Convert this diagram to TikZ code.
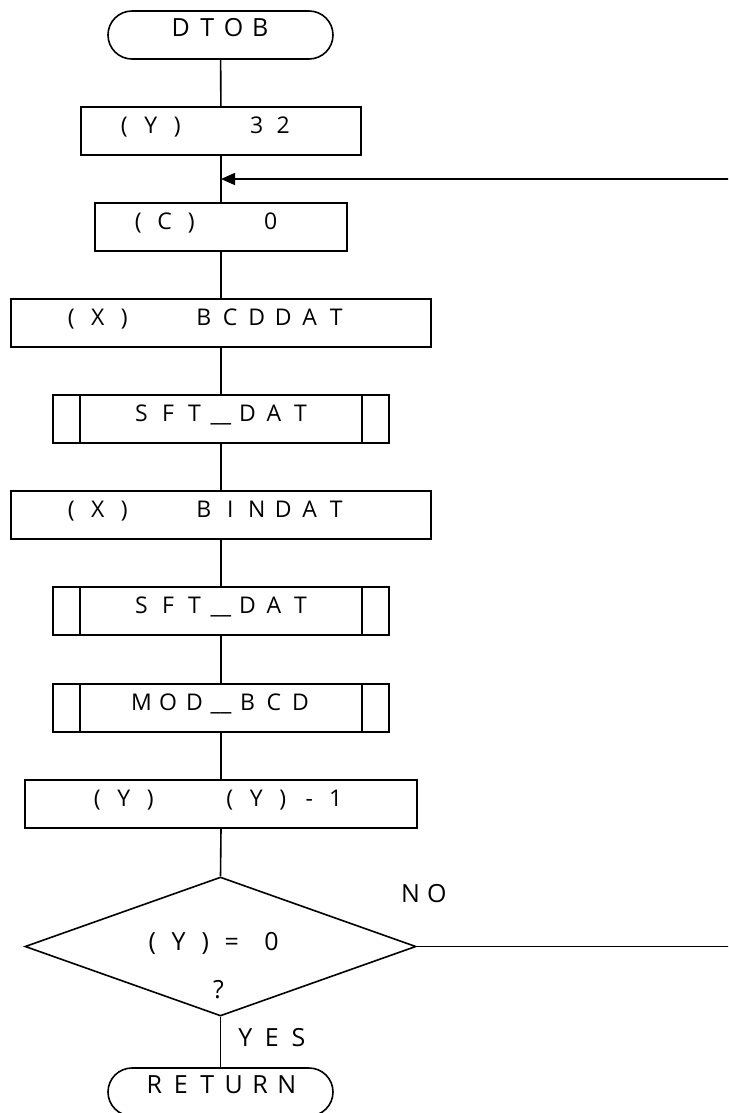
\documentclass[tikz,border=0pt]{standalone}
\usepackage{fontspec}
\setmainfont{Open Sans}
\usetikzlibrary{shapes.geometric,shapes.misc,arrows.meta}
\makeatletter
\newcommand\cells[1]{\@tfor\cellch:=#1\do{\makebox[26.5pt][c]{\cellch}}}
\makeatother
\newcommand\boxtxt[3]{\makebox[#1pt][l]{\hspace*{#2pt}\cells{#3}}}
\tikzset{
  flow/.style={draw, line width=1.6pt, inner sep=0pt, text height=26pt, text depth=22pt, font=\fontsize{23}{27}\selectfont},
  procbox/.style={flow, rectangle},
  subbox/.style={flow, rectangle, minimum width=336pt},
  termbox/.style={flow, rounded rectangle, minimum width=225pt, font=\fontsize{25}{29}\selectfont},
  decbox/.style={draw, line width=1.6pt, diamond, aspect=2.81, minimum width=391pt, minimum height=139pt, inner sep=0pt},
  lbl/.style={inner sep=0pt, font=\fontsize{25}{29}\selectfont},
  conn/.style={line width=1.6pt},
  arr/.style={conn, -{Triangle[length=14pt,width=12pt]}}
}
\begin{document}
\begin{tikzpicture}[x=1pt,y=-1pt]
\useasboundingbox (0,0) rectangle (728,1113);
\clip (0,0) rectangle (728,1113);
% nodes
\node[termbox] (start) at (220.5,35) {\cells{DTOB}};
\node[procbox] (b1) at (221,131) {\boxtxt{280}{30}{(Y)~~32}};
\node[procbox] (b2) at (221,227) {\boxtxt{252}{30}{(C)~~0}};
\node[procbox] (b3) at (221,323) {\boxtxt{420}{47}{(X)~~BCDDAT}};
\node[subbox] (s1) at (221,419) {\cells{SFT{\_\_}DAT}};
\node[procbox] (b4) at (221,515) {\boxtxt{420}{47}{(X)~~BINDAT}};
\node[subbox] (s2) at (221,611) {\cells{SFT{\_\_}DAT}};
\node[subbox] (s3) at (221,708) {\cells{MOD{\_\_}BCD}};
\node[procbox] (b5) at (221,804) {\boxtxt{392}{59}{(Y)~~(Y)-1}};
\node[decbox] (dec) at (220.5,946.5) {};
\node[lbl, anchor=base west] (dt1) at (138.75,950) {\cells{(Y)=}\hspace*{13.25pt}\cells{0}};
\node[lbl, anchor=base] (dt2) at (218.5,998) {\cells{?}};
\node[termbox, text height=25pt, text depth=23pt] (ret) at (220.5,1092) {\cells{RETURN}};
\node[lbl, anchor=base west] (no) at (397,902) {\cells{NO}};
\node[lbl, anchor=base west] (yes) at (232,1046) {\cells{YES}};
% subroutine inner bars
\foreach \s in {s1,s2,s3}{
  \draw[conn] ([xshift=28pt]\s.north west) -- ([xshift=28pt]\s.south west);
  \draw[conn] ([xshift=-28pt]\s.north east) -- ([xshift=-28pt]\s.south east);
}
% connectors
\coordinate (j) at (221,179);
\coordinate (nr) at (731,946.5);
\draw[conn] (start) -- (b1);
\draw[conn] (b1) -- (b2);
\draw[conn] (b2) -- (b3);
\draw[conn] (b3) -- (s1);
\draw[conn] (s1) -- (b4);
\draw[conn] (b4) -- (s2);
\draw[conn] (s2) -- (s3);
\draw[conn] (s3) -- (b5);
\draw[conn] (b5.south) -- (dec.north);
\draw[conn] (dec.south) -- (ret.north);
\draw[arr] (dec.east) -- (nr) |- (j);
\end{tikzpicture}
\end{document}
